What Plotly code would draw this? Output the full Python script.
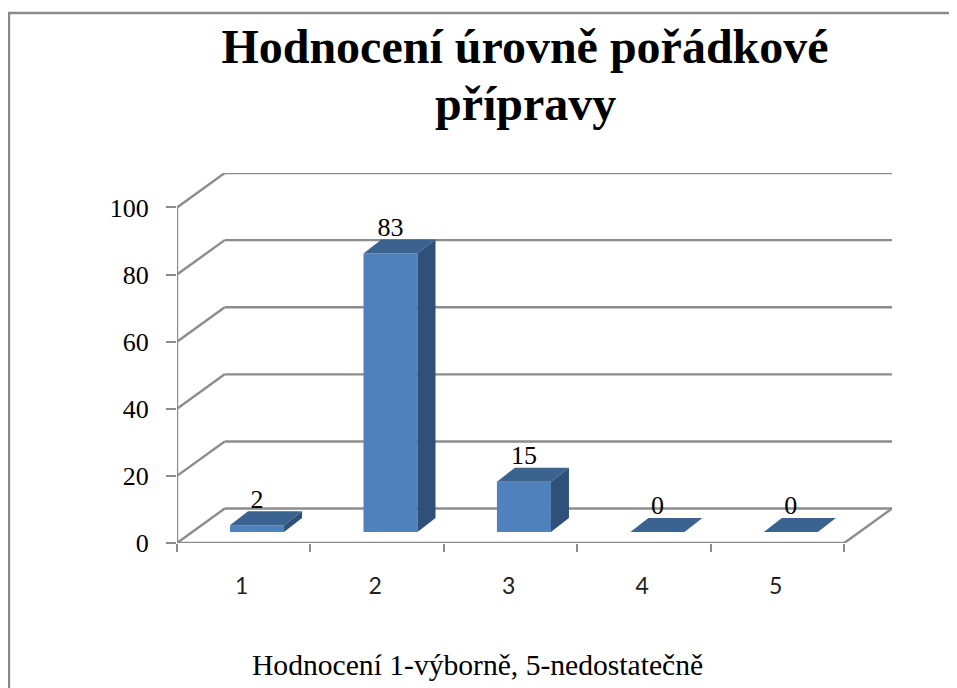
import plotly.graph_objects as go

categories = [1, 2, 3, 4, 5]
values = [2, 83, 15, 0, 0]
y_ticks = [0, 20, 40, 60, 80, 100]
title_line1 = "Hodnocení úrovně pořádkové"
title_line2 = "přípravy"
x_title = "Hodnocení 1-výborně, 5-nedostatečně"

# The page has an 8px body margin, so figure coordinates are page coordinates minus 8
PAGE = 8
W, H = 957 - PAGE, 688 - PAGE
L, R, T, B = 177.0 - PAGE, 891.7 - PAGE, 173.3 - PAGE, 542.7 - PAGE
PX_X = 133.4
PX_Y = 3.35
WALL_DX = 47.7 / PX_X
WALL_DY = 34.4 / PX_Y
BAR_W = 54 / PX_X
BAR_SHIFT = 13.3 / PX_X
BAR_FLOOR = 11 / PX_Y
BAR_DX = 18 / PX_X
BAR_DY = 14 / PX_Y
LABEL_DROP = 3 / PX_Y
GRID = "#8c8c8c"
SERIF = "Liberation Serif"

x_max = 0.5 + (R - L) / PX_X
y_max = (B - T) / PX_Y

shapes = []
def line(x0, y0, x1, y1):
    shapes.append(dict(type="line", xref="x", yref="y", x0=x0, y0=y0, x1=x1, y1=y1,
                       layer="below", line=dict(color=GRID, width=2.4)))

for v in y_ticks:
    line(0.5, v, 0.5 + WALL_DX, v + WALL_DY)
    line(0.5 + WALL_DX, v + WALL_DY, 5.5 + WALL_DX, v + WALL_DY)
line(0.5, 0, 0.5, 100)
line(0.5, 0, 5.5, 0)
line(5.5, 0, 5.5 + WALL_DX, WALL_DY)

fx = lambda p: (p - PAGE - L) / (R - L)
fy = lambda p: (B - (p - PAGE)) / (B - T)
shapes.append(dict(type="path", xref="paper", yref="paper", layer="below",
                   path=f"M {fx(9)} {fy(700)} L {fx(9)} {fy(13.5)} L {fx(957)} {fy(13.5)}",
                   line=dict(color="#8a8a8a", width=2.5)))

fig = go.Figure()
xc = [c + BAR_SHIFT for c in categories]

fig.add_trace(go.Bar(x=xc, y=values, base=[BAR_FLOOR] * len(values), width=BAR_W,
                     marker=dict(color="#4F81BD", line=dict(width=0)), showlegend=False,
                     hoverinfo="skip"))

for x, v in zip(xc, values):
    l, r = x - BAR_W / 2, x + BAR_W / 2
    b, t = BAR_FLOOR, BAR_FLOOR + v
    fig.add_trace(go.Scatter(x=[l, r, r + BAR_DX, l + BAR_DX, l],
                             y=[t, t, t + BAR_DY, t + BAR_DY, t],
                             mode="lines", fill="toself", fillcolor="#3A6390",
                             line=dict(width=0), showlegend=False, hoverinfo="skip"))
    if v > 0:
        fig.add_trace(go.Scatter(x=[r, r + BAR_DX, r + BAR_DX, r, r],
                                 y=[b, b + BAR_DY, t + BAR_DY, t, b],
                                 mode="lines", fill="toself", fillcolor="#2F5078",
                                 line=dict(width=0), showlegend=False, hoverinfo="skip"))

fig.add_trace(go.Scatter(x=xc, y=[BAR_FLOOR + v + BAR_DY - LABEL_DROP for v in values],
                         mode="text", text=[str(v) for v in values], textposition="top center",
                         textfont=dict(family=SERIF, size=26, color="#000000"),
                         showlegend=False, hoverinfo="skip"))

fig.update_layout(
    width=W, height=H, paper_bgcolor="white", plot_bgcolor="white",
    margin=dict(l=L, r=W - R, t=T, b=H - B, autoexpand=False),
    title=dict(text=f"<b>{title_line1}</b>", x=(525 - PAGE) / W, xanchor="center",
               y=1 - (46 - PAGE) / H, yanchor="middle",
               font=dict(family=SERIF, size=48, color="#000000")),
    xaxis=dict(range=[0.5, x_max], tickmode="array", tickvals=categories,
               ticktext=[str(c) for c in categories], ticks="", showgrid=False, zeroline=False,
               showline=False, tickfont=dict(family="Lato", size=23, color="#222222"),
               ticklabelstandoff=27, ticklabelshift=-2,
               minor=dict(tickmode="array", tickvals=[0.5, 1.5, 2.5, 3.5, 4.5, 5.5], ticks="outside",
                          ticklen=8, tickwidth=2.4, tickcolor=GRID, showgrid=False)),
    yaxis=dict(range=[0, y_max], tickmode="array", tickvals=y_ticks, ticks="outside", ticklen=10,
               tickwidth=2.4, tickcolor=GRID, showgrid=False, zeroline=False, showline=False,
               tickfont=dict(family=SERIF, size=26, color="#000000"), ticklabelstandoff=12),
    shapes=shapes,
    annotations=[
        dict(text=f"<b>{title_line2}</b>", xref="paper", yref="paper", x=fx(525), y=fy(104),
             showarrow=False, xanchor="center", yanchor="middle",
             font=dict(family=SERIF, size=48, color="#000000")),
        dict(text=x_title, xref="paper", yref="paper", x=fx(477), y=fy(665),
             showarrow=False, xanchor="center", yanchor="middle",
             font=dict(family=SERIF, size=29.6, color="#000000")),
    ],
)
fig.write_html("out.html")
